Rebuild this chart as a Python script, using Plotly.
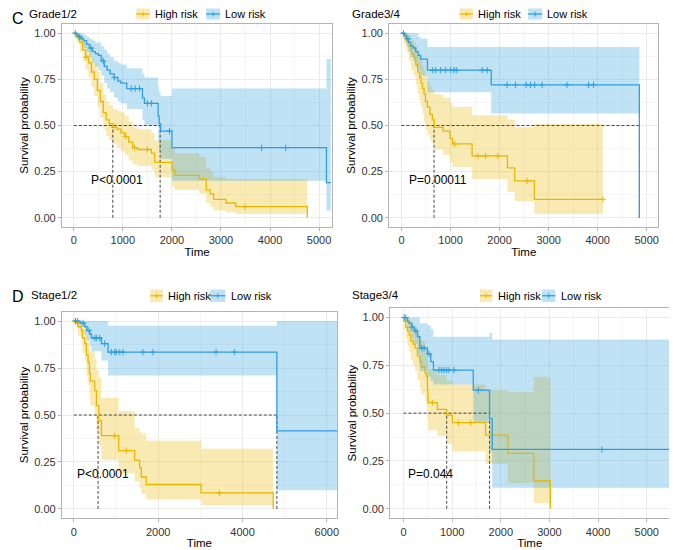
import plotly.graph_objects as go

# the page body has an 8px margin, so the figure is drawn 8px smaller and all pixel positions are shifted
OFFSET = 8
W, H = 677 - OFFSET, 550 - OFFSET

HIGH_COLOR = "#E7B800"
LOW_COLOR = "#2E9FDF"
HIGH_FILL = "rgba(231,184,0,0.3)"
LOW_FILL = "rgba(46,159,223,0.3)"
FONT = "Liberation Sans, Arial, Helvetica, sans-serif"

# ---------------- Grade1/2 ----------------
g12_high_time = [0, 60, 120, 180, 240, 300, 360, 420, 480, 540, 600, 660, 720, 800, 880, 960, 1040, 1120, 1200, 1300,
                 1580, 1650, 2000, 2060, 2560, 2700, 2780, 2850, 3100, 3300, 4760]
g12_high_surv = [1.0, 0.98, 0.95, 0.91, 0.87, 0.84, 0.79, 0.75, 0.69, 0.63, 0.57, 0.53, 0.51, 0.49, 0.48, 0.46, 0.44, 0.41, 0.38, 0.37,
                 0.35, 0.30, 0.26, 0.23, 0.21, 0.15, 0.13, 0.10, 0.08, 0.06, 0.0]
g12_high_upper = [1.0, 1.0, 0.99, 0.96, 0.93, 0.91, 0.87, 0.84, 0.79, 0.73, 0.67, 0.63, 0.61, 0.59, 0.58, 0.57, 0.55, 0.52, 0.49, 0.48,
                  0.46, 0.42, 0.38, 0.35, 0.33, 0.27, 0.25, 0.22, 0.21, 0.21, 0.21]
g12_high_lower = [1.0, 0.95, 0.90, 0.85, 0.80, 0.76, 0.71, 0.66, 0.60, 0.54, 0.48, 0.44, 0.42, 0.40, 0.38, 0.36, 0.34, 0.31, 0.29, 0.28,
                  0.26, 0.22, 0.17, 0.15, 0.13, 0.08, 0.06, 0.04, 0.03, 0.02, 0.02]
g12_high_censor = [90, 250, 820, 1060, 1240, 1500, 3490]

g12_low_time = [0, 50, 100, 150, 200, 260, 320, 380, 440, 500, 560, 620, 680, 740, 820, 900, 960, 1080, 1400, 1440,
                1720, 1740, 1770, 2000, 5150, 5240]
g12_low_surv = [1.0, 0.99, 0.98, 0.97, 0.96, 0.94, 0.92, 0.90, 0.89, 0.88, 0.85, 0.82, 0.80, 0.78, 0.76, 0.74, 0.73, 0.70, 0.65, 0.62,
                0.55, 0.51, 0.47, 0.38, 0.19, 0.19]
g12_low_upper = [1.0, 1.0, 1.0, 1.0, 0.99, 0.98, 0.97, 0.96, 0.95, 0.95, 0.93, 0.91, 0.89, 0.87, 0.85, 0.84, 0.83, 0.81, 0.78, 0.76,
                 0.71, 0.68, 0.66, 0.70, 0.86, 0.86]
g12_low_lower = [1.0, 0.97, 0.96, 0.94, 0.92, 0.90, 0.87, 0.84, 0.82, 0.80, 0.77, 0.73, 0.70, 0.68, 0.65, 0.63, 0.62, 0.59, 0.53, 0.50,
                 0.42, 0.36, 0.32, 0.20, 0.04, 0.04]
g12_low_censor = [30, 120, 350, 600, 830, 1170, 1250, 1340, 1500, 1580, 1950, 3830, 4320]
g12_medians = [795, 1760]

# ---------------- Grade3/4 ----------------
g34_high_time = [0, 50, 100, 150, 200, 250, 290, 330, 370, 400, 430, 460, 490, 530, 580, 630, 670, 850, 990, 1040,
                 1440, 2160, 2310, 2710, 4106]
g34_high_surv = [1.0, 0.98, 0.96, 0.93, 0.89, 0.87, 0.83, 0.79, 0.76, 0.73, 0.70, 0.67, 0.63, 0.60, 0.56, 0.53, 0.49, 0.47, 0.43, 0.40,
                 0.335, 0.27, 0.20, 0.10, 0.10]
g34_high_upper = [1.0, 1.0, 1.0, 0.99, 0.97, 0.95, 0.93, 0.90, 0.87, 0.85, 0.82, 0.80, 0.77, 0.74, 0.71, 0.69, 0.67, 0.65, 0.62, 0.60,
                  0.555, 0.53, 0.49, 0.51, 0.51]
g34_high_lower = [1.0, 0.94, 0.90, 0.85, 0.80, 0.77, 0.72, 0.67, 0.63, 0.60, 0.56, 0.52, 0.48, 0.45, 0.42, 0.40, 0.37, 0.34, 0.30, 0.275,
                  0.21, 0.14, 0.09, 0.02, 0.02]
g34_high_censor = [1084, 1558, 1714, 1965, 2561, 4106]

g34_low_time = [0, 60, 100, 140, 190, 240, 290, 340, 390, 530, 1830, 4850]
g34_low_surv = [1.0, 0.99, 0.97, 0.95, 0.93, 0.92, 0.90, 0.88, 0.86, 0.80, 0.72, 0.0]
g34_low_upper = [1.0, 1.0, 1.0, 1.0, 1.0, 1.0, 1.0, 0.98, 0.97, 0.925, 0.925, 0.925]
g34_low_lower = [1.0, 0.96, 0.93, 0.90, 0.87, 0.85, 0.82, 0.80, 0.77, 0.68, 0.565, 0.565]
g34_low_censor = [40, 130, 630, 698, 800, 901, 1003, 1070, 1118, 1646, 1748, 2154, 2324, 2541, 2629, 2717, 2866, 3374, 3814, 3916]
g34_medians = [664, 4850]

# ---------------- Stage1/2 ----------------
s12_high_time = [0, 63, 102, 181, 205, 260, 299, 339, 370, 394, 496, 536, 591, 654, 1064, 1442, 1560, 1600, 1718, 3018, 4728]
s12_high_surv = [1.0, 0.99, 0.97, 0.95, 0.91, 0.88, 0.82, 0.78, 0.72, 0.68, 0.63, 0.55, 0.47, 0.39, 0.31, 0.26, 0.22, 0.17, 0.13, 0.085, 0.0]
s12_high_upper = [1.0, 1.0, 1.0, 1.0, 0.98, 0.96, 0.93, 0.90, 0.87, 0.84, 0.80, 0.74, 0.70, 0.59, 0.52, 0.43, 0.41, 0.40, 0.363, 0.32, 0.32]
s12_high_lower = [1.0, 0.96, 0.92, 0.88, 0.83, 0.79, 0.71, 0.66, 0.59, 0.55, 0.50, 0.42, 0.34, 0.26, 0.19, 0.145, 0.11, 0.08, 0.05, 0.02, 0.02]
s12_high_censor = [30, 969, 1245, 3452]

s12_low_time = [0, 142, 260, 315, 378, 418, 654, 812, 4815, 6240]
s12_low_surv = [1.0, 0.99, 0.97, 0.95, 0.93, 0.91, 0.88, 0.835, 0.415, 0.415]
s12_low_upper = [1.0, 1.0, 1.0, 1.0, 1.0, 1.0, 1.0, 0.975, 1.0, 1.0]
s12_low_lower = [1.0, 0.97, 0.93, 0.90, 0.87, 0.84, 0.79, 0.71, 0.10, 0.10]
s12_low_censor = [40, 90, 220, 360, 500, 535, 615, 730, 890, 970, 1010, 1090, 1170, 1640, 1875, 3373, 3806]
s12_medians = [575, 4815]

# ---------------- Stage3/4 ----------------
s34_high_time = [0, 14, 48, 82, 116, 150, 198, 239, 287, 335, 369, 444, 471, 492, 505, 697, 888, 1004, 1687, 2145, 2678, 3019]
s34_high_surv = [1.0, 0.98, 0.95, 0.93, 0.91, 0.88, 0.86, 0.84, 0.80, 0.77, 0.74, 0.71, 0.69, 0.62, 0.555, 0.52, 0.49, 0.45, 0.385, 0.29, 0.145, 0.0]
s34_high_upper = [1.0, 1.0, 1.0, 1.0, 0.99, 0.98, 0.96, 0.95, 0.92, 0.90, 0.88, 0.85, 0.84, 0.78, 0.73, 0.70, 0.67, 0.65, 0.62, 0.61, 0.69, 0.69]
s34_high_lower = [1.0, 0.94, 0.89, 0.85, 0.82, 0.78, 0.75, 0.72, 0.67, 0.63, 0.60, 0.56, 0.54, 0.47, 0.41, 0.38, 0.34, 0.30, 0.235, 0.135, 0.03, 0.03]
s34_high_censor = [594, 1127, 1380]

s34_low_time = [0, 82, 116, 171, 219, 287, 335, 492, 560, 615, 1434, 1769, 1824, 5460]
s34_low_surv = [1.0, 0.98, 0.97, 0.95, 0.93, 0.90, 0.84, 0.81, 0.77, 0.725, 0.62, 0.47, 0.31, 0.31]
s34_low_upper = [1.0, 1.0, 1.0, 1.0, 1.0, 1.0, 0.97, 0.96, 0.94, 0.90, 0.90, 0.92, 0.885, 0.885]
s34_low_lower = [1.0, 0.94, 0.92, 0.89, 0.86, 0.81, 0.72, 0.69, 0.67, 0.65, 0.45, 0.30, 0.11, 0.11]
s34_low_censor = [14, 48, 171, 253, 376, 424, 526, 731, 786, 833, 888, 936, 1038, 1537, 4078]
s34_medians = [888, 1769]

panel_titles = ["Grade1/2", "Grade3/4", "Stage1/2", "Stage3/4"]
panel_letters = ["C", "", "D", ""]
pvalue_texts = ["P<0.0001", "P=0.00011", "P<0.0001", "P=0.044"]
pvalue_x = [311, 122, 24, 48]
pvalue_y = [0.205, 0.205, 0.188, 0.182]
x_ticks = [[0, 1000, 2000, 3000, 4000, 5000], [0, 1000, 2000, 3000, 4000, 5000],
           [0, 2000, 4000, 6000], [0, 1000, 2000, 3000, 4000, 5000]]
legend_labels = ["High risk", "Low risk"]

# layout geometry in page pixels (left, right, top, bottom) and axis ranges
panel_px = [(62, 333.3, 24, 227), (390.3, 660.3, 24, 227), (62, 338, 311.7, 518.3), (391.3, 671.3, 308, 518.3)]
x_ranges = [[-244, 5270], [-251, 5237], [-284, 6241], [-274, 5464]]


def px(x):
    return (x - OFFSET) / W


def py(y):
    return 1 - (y - OFFSET) / H


def step_value(times, surv, t):
    val = surv[0]
    for ti, si in zip(times, surv):
        if ti <= t:
            val = si
    return val


panels = [
    dict(high=(g12_high_time, g12_high_surv, g12_high_lower, g12_high_upper, g12_high_censor),
         low=(g12_low_time, g12_low_surv, g12_low_lower, g12_low_upper, g12_low_censor), med=g12_medians),
    dict(high=(g34_high_time, g34_high_surv, g34_high_lower, g34_high_upper, g34_high_censor),
         low=(g34_low_time, g34_low_surv, g34_low_lower, g34_low_upper, g34_low_censor), med=g34_medians),
    dict(high=(s12_high_time, s12_high_surv, s12_high_lower, s12_high_upper, s12_high_censor),
         low=(s12_low_time, s12_low_surv, s12_low_lower, s12_low_upper, s12_low_censor), med=s12_medians),
    dict(high=(s34_high_time, s34_high_surv, s34_high_lower, s34_high_upper, s34_high_censor),
         low=(s34_low_time, s34_low_surv, s34_low_lower, s34_low_upper, s34_low_censor), med=s34_medians),
]

fig = go.Figure()
shapes = []
annotations = []

for i, p in enumerate(panels):
    xa = "x" if i == 0 else f"x{i + 1}"
    ya = "y" if i == 0 else f"y{i + 1}"
    groups = [(p["high"], HIGH_COLOR, HIGH_FILL), (p["low"], LOW_COLOR, LOW_FILL)]

    # confidence bands first
    for (t, s, lo, up, cens), color, fill in groups:
        fig.add_trace(go.Scatter(x=t, y=lo, mode="lines", line=dict(width=0, shape="hv"),
                                 xaxis=xa, yaxis=ya, hoverinfo="skip"))
        fig.add_trace(go.Scatter(x=t, y=up, mode="lines", line=dict(width=0, shape="hv"),
                                 fill="tonexty", fillcolor=fill, xaxis=xa, yaxis=ya, hoverinfo="skip"))

    # median reference lines
    med = p["med"]
    mx = [0, max(med), None]
    my = [0.5, 0.5, None]
    for m in med:
        mx += [m, m, None]
        my += [0, 0.5, None]
    fig.add_trace(go.Scatter(x=mx, y=my, mode="lines", xaxis=xa, yaxis=ya,
                             line=dict(color="#333333", width=0.9, dash="3px,2px"), hoverinfo="skip"))

    # survival curves and censor marks
    for (t, s, lo, up, cens), color, fill in groups:
        fig.add_trace(go.Scatter(x=t, y=s, mode="lines", line=dict(color=color, width=1.3, shape="hv"),
                                 xaxis=xa, yaxis=ya))
        fig.add_trace(go.Scatter(x=cens, y=[step_value(t, s, c) for c in cens], mode="markers",
                                 marker=dict(symbol="cross-thin", size=4.5, line=dict(color=color, width=1)),
                                 xaxis=xa, yaxis=ya, hoverinfo="skip"))

    left, right, top, bottom = panel_px[i]
    tick_step = x_ticks[i][1] - x_ticks[i][0]
    fig.update_layout({
        ("xaxis" if i == 0 else f"xaxis{i + 1}"): dict(
            domain=[px(left), px(right)], anchor=ya, range=x_ranges[i],
            tickvals=x_ticks[i], ticks="outside", ticklen=3, tickcolor="#B3B3B3",
            showline=True, mirror=True, linecolor="#B3B3B3", linewidth=1,
            showgrid=True, gridcolor="#EBEBEB", gridwidth=1, zeroline=False,
            minor=dict(dtick=tick_step / 2, tick0=0, showgrid=True, gridcolor="#F5F5F5"),
            tickfont=dict(size=11, color="#333333", family=FONT),
            title=dict(text="Time", font=dict(size=11.5, color="black", family=FONT), standoff=2),
        ),
        ("yaxis" if i == 0 else f"yaxis{i + 1}"): dict(
            domain=[py(bottom), py(top)], anchor=xa, range=[-0.05, 1.05],
            tickvals=[0, 0.25, 0.5, 0.75, 1.0], tickformat=".2f", ticks="outside", ticklen=3, tickcolor="#B3B3B3",
            showline=True, mirror=True, linecolor="#B3B3B3", linewidth=1,
            showgrid=True, gridcolor="#EBEBEB", gridwidth=1, zeroline=False,
            minor=dict(dtick=0.125, tick0=0, showgrid=True, gridcolor="#F5F5F5"),
            tickfont=dict(size=11, color="#333333", family=FONT),
            title=dict(text="Survival probability", font=dict(size=11.5, color="black", family=FONT), standoff=3),
        ),
    })

    # p-value text
    annotations.append(dict(x=pvalue_x[i], y=pvalue_y[i], xref=xa, yref=ya, text=pvalue_texts[i],
                            xanchor="left", yanchor="middle", showarrow=False,
                            font=dict(size=12, color="black", family=FONT)))

# panel letters and titles (top row nudged down so it stays inside the figure)
title_pos = [(27, 14), (351, 14), (29, 295), (351, 295)]
letter_pos = [(10, 19), None, (10, 296), None]
for i in range(4):
    tx, ty = title_pos[i]
    annotations.append(dict(x=px(tx), y=py(ty), xref="paper", yref="paper", text=panel_titles[i],
                            xanchor="left", yanchor="middle", showarrow=False,
                            font=dict(size=11.5, color="black", family=FONT)))
    if panel_letters[i]:
        lx, ly = letter_pos[i]
        annotations.append(dict(x=px(lx), y=py(ly), xref="paper", yref="paper", text=panel_letters[i],
                                xanchor="left", yanchor="middle", showarrow=False,
                                font=dict(size=16, color="black", family=FONT)))

# hand-drawn legend keys: (box left, box right, text left) for high and low, plus box top/bottom
legend_px = [
    ((136.7, 150.3, 153.3), (206.7, 220.7, 224), 8.5, 19.5),
    ((461, 474.3, 477.7), (529.7, 543.7, 546.3), 8.5, 19.5),
    ((150.7, 163.3, 166.7), (210.7, 226, 229.3), 289.5, 302),
    ((481.3, 493.7, 497.7), (543.7, 557, 560.3), 289.5, 302),
]
for (hi_key, lo_key, ky0, ky1) in legend_px:
    for (bx0, bx1, tx), color, fill, label in [(hi_key, HIGH_COLOR, HIGH_FILL, legend_labels[0]),
                                                (lo_key, LOW_COLOR, LOW_FILL, legend_labels[1])]:
        ym = (ky0 + ky1) / 2
        shapes.append(dict(type="rect", xref="paper", yref="paper", x0=px(bx0), x1=px(bx1),
                           y0=py(ky1), y1=py(ky0), fillcolor=fill, line=dict(width=0), layer="above"))
        shapes.append(dict(type="line", xref="paper", yref="paper", x0=px(bx0), x1=px(bx1),
                           y0=py(ym), y1=py(ym), line=dict(color=color, width=1.3), layer="above"))
        cx = (bx0 + bx1) / 2
        shapes.append(dict(type="line", xref="paper", yref="paper", x0=px(cx), x1=px(cx),
                           y0=py(ym - 2.5), y1=py(ym + 2.5), line=dict(color=color, width=1), layer="above"))
        annotations.append(dict(x=px(tx), y=py(ym), xref="paper", yref="paper", text=label,
                                xanchor="left", yanchor="middle", showarrow=False,
                                font=dict(size=11, color="black", family=FONT)))

fig.update_layout(
    width=W, height=H,
    margin=dict(l=0, r=0, t=0, b=0),
    plot_bgcolor="white", paper_bgcolor="white",
    showlegend=False,
    shapes=shapes, annotations=annotations,
    font=dict(family=FONT),
)

fig.write_html("out.html")
